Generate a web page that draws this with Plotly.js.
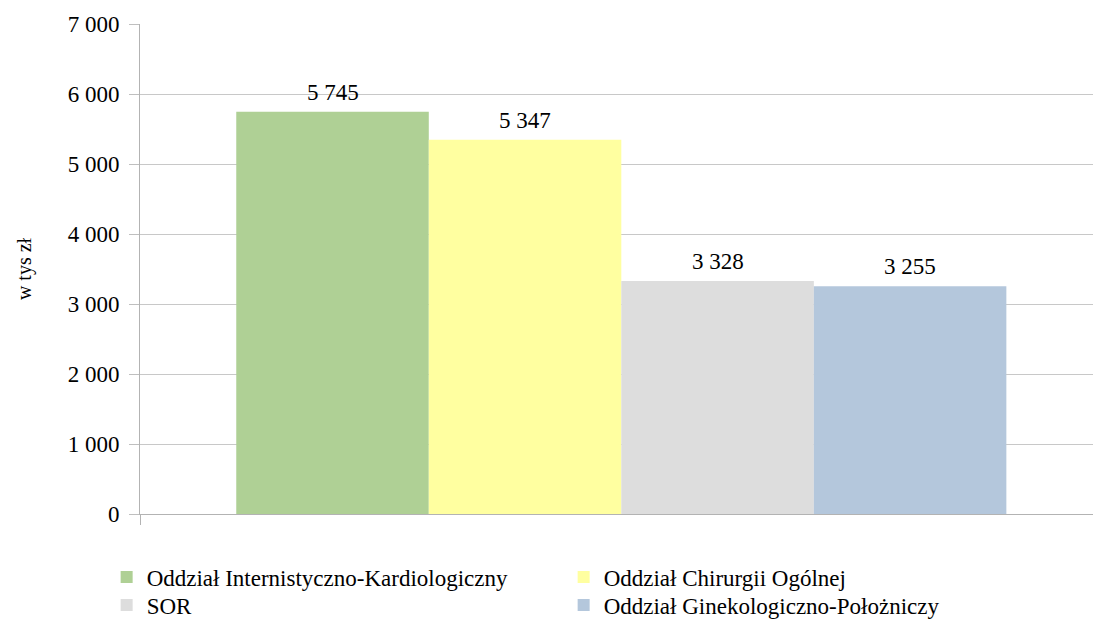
<!DOCTYPE html>
<html>
<head>
<meta charset="utf-8">
<script src="https://cdn.plot.ly/plotly-3.0.1.min.js"></script>
<style>
html,body{margin:0;padding:0;overflow:hidden;background:#fff;}
#chart{width:1093px;height:619px;}
</style>
</head>
<body>
<div id="chart"></div>
<script>
const categories = ["2023"];
const seriesNames = [
  "Oddział Internistyczno-Kardiologiczny",
  "Oddział Chirurgii Ogólnej",
  "SOR",
  "Oddział Ginekologiczno-Położniczy"
];
const seriesValues = [[5745], [5347], [3328], [3255]];
const seriesColors = ["#afd095", "#ffffa0", "#dddddd", "#b4c7dc"];
const yTickVals = [0, 1000, 2000, 3000, 4000, 5000, 6000, 7000];
const yTitle = "w tys zł";

const FAM = "Liberation Serif";
const BARGAP = 0.2;

function fmtNum(v) {
  return String(v).replace(/\B(?=(\d{3})+(?!\d))/g, " ");
}

const traces = seriesNames.map((name, i) => ({
  type: "bar",
  name: name,
  x: categories,
  y: seriesValues[i],
  legend: i < 2 ? "legend" : "legend2",
  marker: {color: seriesColors[i], line: {width: 0}},
  hoverinfo: "none"
}));

const nSeries = seriesNames.length;
const barW = (1 - BARGAP) / nSeries;
const annotations = seriesValues.map((vals, i) => ({
  xref: "x", yref: "y",
  x: (i - (nSeries - 1) / 2) * barW,
  y: vals[0],
  text: fmtNum(vals[0]),
  showarrow: false,
  xanchor: "center",
  yanchor: "bottom",
  yshift: 5,
  font: {family: FAM, size: 23, color: "#000"}
}));

const legendBase = {
  orientation: "h",
  x: -0.035,
  xanchor: "left",
  xref: "paper",
  yanchor: "middle",
  entrywidth: 412,
  entrywidthmode: "pixels",
  itemwidth: 30,
  font: {family: FAM, size: 23, color: "#000"},
  traceorder: "normal",
  bgcolor: "rgba(0,0,0,0)"
};

const layout = {
  width: 1093,
  height: 619,
  margin: {l: 140, r: 0, t: 24, b: 105, autoexpand: false},
  paper_bgcolor: "#fff",
  plot_bgcolor: "#fff",
  separators: ", ",
  barmode: "group",
  bargap: BARGAP,
  bargroupgap: 0,
  showlegend: true,
  annotations: annotations,
  xaxis: {
    type: "category",
    range: [-0.5, 0.49],
    showticklabels: false,
    tickvals: [-0.5],
    ticks: "outside",
    ticklen: 10,
    tickcolor: "#b3b3b3",
    showline: true,
    linecolor: "#b3b3b3",
    showgrid: false,
    zeroline: false
  },
  yaxis: {
    range: [0, 7000],
    tickvals: yTickVals,
    tickformat: ",d",
    ticks: "outside",
    ticklen: 10,
    tickcolor: "#bfbfbf",
    ticklabelstandoff: 5,
    tickfont: {family: FAM, size: 23, color: "#000"},
    showline: true,
    linecolor: "#b3b3b3",
    gridcolor: "#c8c8c8",
    zeroline: false,
    automargin: false,
    title: {text: yTitle, font: {family: FAM, size: 20, color: "#000"}, standoff: 30}
  },
  legend: Object.assign({}, legendBase, {y: -0.1286}),
  legend2: Object.assign({}, legendBase, {y: -0.186})
};

Plotly.newPlot("chart", traces, layout, {displayModeBar: false, staticPlot: true});
</script>
</body>
</html>
